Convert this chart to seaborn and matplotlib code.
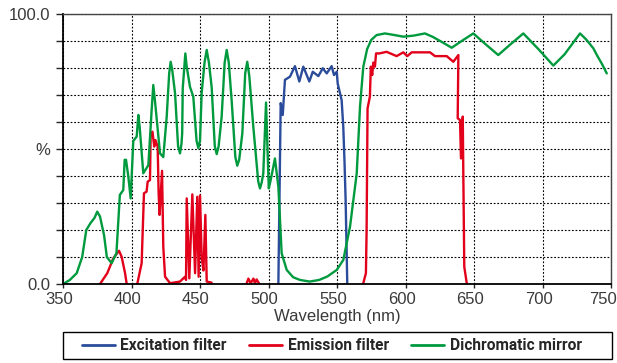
import pandas as pd
import matplotlib.pyplot as plt
import matplotlib.transforms as mtransforms
import seaborn as sns
from matplotlib.patches import Rectangle

# Excitation filter (blue)
exc_wl = [507.2, 508.9, 510.4, 512, 515.7, 519.3, 522.5, 525.4, 529.8, 532.3, 536.4,
          539.6, 542.5, 546.1, 547.8, 549.8, 550.5, 553.4, 554.6, 555.5, 556.3, 557.5]
exc_pct = [0, 67, 62.6, 75.6, 76.8, 80.7, 75, 80.5, 75, 78.6, 77,
           79.9, 78, 80.7, 77.4, 78.6, 74.3, 68, 58, 45, 31, 0]

# Emission filter (red), in separate pieces
em_uv_wl = [377, 382.3, 386.7, 390.9, 392.8, 395.3, 396.5]
em_uv_pct = [0, 4, 9.5, 12.3, 10.1, 4, 0]
em_blue_wl = [404.2, 407.4, 409.1, 411, 411.8, 413.5, 414, 415.3, 416.6, 417.5, 419.1,
              419.8, 420.5, 422.3, 423.2, 424.5, 428.1, 435.4, 439.1, 439.8, 440.3, 442.2,
              444.4, 446.4, 448, 449, 450, 451.2, 452.5, 453.9, 454.9, 458.5]
em_blue_pct = [0, 7.7, 33.6, 34.2, 37.9, 38.5, 55.8, 56.4, 50.9, 53.3, 50.9,
               33.6, 25.6, 41.9, 13.8, 2.7, 0.3, 0.9, 2.7, 1.5, 31.7, 2.1,
               33.2, 4, 32.3, 2.7, 32.8, 10.1, 5, 25.6, 0.9, 0.5]
em_green_wl = [484.1, 485.3, 487, 489, 490.1, 491.3, 493]
em_green_pct = [0.3, 2, 0.3, 2, 0.3, 1.7, 0.3]
em_red_wl = [569.2, 571.1, 571.6, 572.3, 574, 574.7, 575.7, 576.5, 577.7, 578.5, 581,
             586.2, 593.5, 598.4, 601.3, 604.5, 617.9, 621.5, 630.1, 634.9, 638.6,
             638.1, 639.8, 640.5, 641.8, 642.2, 642.9, 644.7]
em_red_pct = [0.3, 4, 19.4, 65, 69.4, 80.5, 77.4, 82, 80.5, 85.4, 85.4,
              86, 84.4, 85.8, 84.4, 85.8, 85.8, 84.4, 84.4, 82.3, 84.8,
              61.4, 60.7, 46.5, 62, 41, 6.4, 0.3]

# Dichromatic mirror (green)
dich_wl = [350, 355, 360, 364, 367, 370, 373, 375, 377, 380, 382, 385.5, 389, 391.5, 394,
           395, 396, 397.7, 399.4, 401.3, 403.8, 405, 406, 408.6, 412.3, 414.7, 415.9,
           417.1, 420.8, 423.2, 425.7, 427.5, 428.6, 429.8, 431.8, 434, 435.4, 436.5,
           437.0, 437.4, 439.3, 440.3, 442.7, 445.1, 447.5, 448.8, 450, 451.2, 453.3,
           454.9, 456.5, 458.5, 460.8, 462.2, 463.6, 465.8, 468, 469.5, 471, 473.1,
           475.8, 477.2, 478.6, 480.9, 483, 484.5, 486, 488.9, 492.5, 493.8, 495,
           496.2, 498.2, 500.2, 501.6, 504.7, 507.2, 509.6, 513.3, 518, 523, 530, 537,
           543, 549.8, 554.6, 559.5, 564.4, 566.8, 569.2, 572, 575, 578.9, 585, 592,
           598.4, 606, 614.2, 620, 627, 633.7, 641, 649.5, 658, 667.7, 676, 686, 697,
           707.9, 716, 727.4, 732, 737.1, 740, 743.2, 746.9]
dich_pct = [0, 1.5, 4, 10, 20, 22.5, 24.5, 26.8, 25, 18, 10, 7.7, 11.4, 33, 34.8,
            46, 46, 39.7, 31.7, 53, 54.6, 62.6, 58, 41, 44, 64.4, 73.7,
            68, 48.4, 47, 62, 78, 82.3, 79, 70.6, 51, 48.4, 52,
            56, 72.5, 85.4, 80.5, 73, 69.4, 53, 50.3, 53, 70.6, 82,
            86.7, 82, 73, 51, 48.1, 51, 62, 82, 86.7, 82, 68,
            47, 43.8, 46, 55.8, 78, 82.3, 77, 58.3, 38, 35.4, 37.5,
            41, 67.2, 35.4, 38.5, 46.5, 36, 11.4, 5.2, 2.5, 1.5, 0.9, 1.5,
            2.8, 5.2, 8.9, 21.2, 41, 65.7, 80.5, 87, 90.4, 92.2, 92.8, 92.2,
            91.6, 92, 92.8, 91.5, 89.5, 87.5, 90, 92.8, 89, 84.8, 88.5, 92.8, 87,
            80.9, 85, 92.8, 90.5, 87.3, 84.5, 81.7, 78]

series = ["Excitation filter", "Emission filter", "Dichromatic mirror"]
colors = ["#2b4c9b", "#e2001a", "#009a3e"]

pieces = [
    ("Excitation filter", 0, exc_wl, exc_pct),
    ("Emission filter", 1, em_uv_wl, em_uv_pct),
    ("Emission filter", 2, em_blue_wl, em_blue_pct),
    ("Emission filter", 3, em_green_wl, em_green_pct),
    ("Emission filter", 4, em_red_wl, em_red_pct),
    ("Dichromatic mirror", 5, dich_wl, dich_pct),
]
df = pd.concat([pd.DataFrame({"filter": name, "part": part, "wl": wl, "pct": pct})
                for name, part, wl, pct in pieces], ignore_index=True)

sns.set_theme(style="white")
plt.rcParams['font.family'] = ['Liberation Sans', 'DejaVu Sans']

fig = plt.figure(figsize=(6.17, 3.63), dpi=100)
ax = fig.add_axes([63 / 617, 1 - 284 / 363, 548 / 617, 270 / 363])

sns.lineplot(data=df, x="wl", y="pct", hue="filter", hue_order=series, palette=colors,
             units="part", estimator=None, sort=False, lw=1.7, ax=ax)

ax.set_xlim(350, 750)
ax.set_ylim(0, 100)
ax.set_xticks(range(350, 751, 50))
ax.set_yticks(range(0, 101, 10))
ax.set_yticklabels(["0.0", "", "", "", "", "%", "", "", "", "", "100.0"])
ax.grid(True, color="black", linestyle=(0, (1.6, 1.6)), lw=0.8)
ax.tick_params(axis="y", left=True, length=5, width=1, pad=4, labelsize=12, labelcolor="#3a3a3a")
ax.tick_params(axis="x", bottom=True, length=3, width=1, pad=3, labelsize=12, labelcolor="#3a3a3a")

# x tick labels sit a little left of their ticks in the original
xlabels = ax.get_xticklabels()
for i, lab in enumerate(xlabels):
    dx = -8 if i == len(xlabels) - 1 else -4
    shift = mtransforms.ScaledTranslation(dx / 100, 0, fig.dpi_scale_trans)
    lab.set_transform(lab.get_transform() + shift)

ax.set_ylabel("")
ax.set_xlabel("Wavelength (nm)", fontsize=12, color="#3a3a3a")
ax.xaxis.set_label_coords(0.5, -0.094)
ax.xaxis.label.set_va("top")

for s in ["left", "bottom"]:
    ax.spines[s].set_color("black")
    ax.spines[s].set_linewidth(1.3)
for s in ["top", "right"]:
    ax.spines[s].set_color("#444444")
    ax.spines[s].set_linewidth(1.0)

fs = 11.2 * 100 / 72
sns.move_legend(ax, "center left", bbox_to_anchor=(81.5 / 617, 1 - 345.5 / 363),
                bbox_transform=fig.transFigure, ncol=3, frameon=False, title=None,
                borderpad=0, borderaxespad=0, handlelength=33 / fs,
                handletextpad=6 / fs, columnspacing=22 / fs,
                prop={"family": ["Roboto", "Liberation Sans"],
                      "weight": "bold", "size": 11.2})
for line in ax.get_legend().get_lines():
    line.set_linewidth(2)

fig.patches.append(Rectangle((63 / 617, 1 - 359 / 363), 549 / 617, 27 / 363,
                             transform=fig.transFigure, fill=False,
                             edgecolor="black", lw=1))

fig.savefig("out.png", dpi=100)
